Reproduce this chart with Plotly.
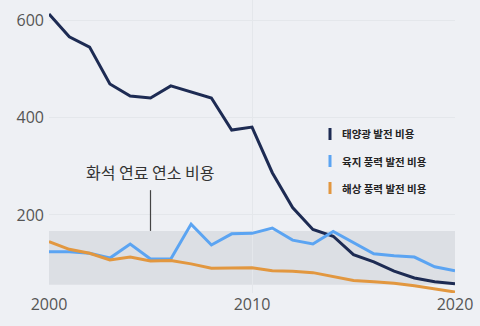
import plotly.graph_objects as go

years = list(range(2000, 2021))
solar = [614, 567, 546, 470, 445, 441, 466, 454, 441, 375, 381, 287, 215, 170, 156, 118, 103, 84, 70, 62, 58]
onshore = [124, 124, 121, 111, 140, 109, 109, 181, 138, 161, 162, 173, 148, 140, 166, 143, 120, 116, 113, 93, 85]
offshore = [145, 129, 121, 107, 113, 105, 106, 99, 90, 90, 91, 85, 84, 81, 73, 65, 62, 59, 54, 47, 41]
series_names = ["태양광 발전 비용", "육지 풍력 발전 비용", "해상 풍력 발전 비용"]
colors = ["#1d2b53", "#5ba4f2", "#e2973f"]
band_low, band_high = 56, 167
band_label = "화석 연료 연소 비용"
band_label_year = 2005

BG = "#eef0f4"
fig = go.Figure()
for vals, name, c in zip([solar, onshore, offshore], series_names, colors):
    fig.add_trace(go.Scatter(x=years, y=vals, mode="lines", name=name,
                             line=dict(color=c, width=3), cliponaxis=False,
                             showlegend=False))

fig.add_shape(type="rect", xref="x", yref="y", x0=years[0], x1=years[-1],
              y0=band_low, y1=band_high, fillcolor="#dcdfe4", line_width=0, layer="below")
fig.add_shape(type="line", xref="x", yref="y", x0=band_label_year, x1=band_label_year,
              y0=band_high, y1=251, line=dict(color="#444", width=1.2))
fig.add_annotation(x=band_label_year, y=289, xref="x", yref="y", text=band_label,
                   showarrow=False, font=dict(family="Noto Sans CJK KR", size=16, color="#333"))

# custom legend
leg_y = [134, 161, 188]
for name, c, py in zip(series_names, colors, leg_y):
    yp = 1 - py / 293
    fig.add_shape(type="line", xref="paper", yref="paper",
                  x0=(330 - 49) / 406, x1=(330 - 49) / 406,
                  y0=yp - 6 / 293, y1=yp + 6 / 293, line=dict(color=c, width=3))
    fig.add_annotation(xref="paper", yref="paper", x=(340 - 49) / 406, y=yp,
                       xanchor="left", yanchor="middle", text="<b>" + name + "</b>",
                       showarrow=False, font=dict(family="Noto Sans CJK KR", size=10.5, color="#222"))

fig.update_layout(
    width=480, height=326, margin=dict(l=49, r=25, t=0, b=33),
    paper_bgcolor=BG, plot_bgcolor=BG,
    font=dict(family="Open Sans", color="#555"),
    xaxis=dict(range=[2000, 2020], tickvals=[2000, 2010, 2020], showgrid=True,
               gridcolor="#e4e7eb", zeroline=False, showline=False,
               tickfont=dict(size=16, color="#555"), ticks=""),
    yaxis=dict(range=[39, 643], tickvals=[200, 400, 600], showgrid=True,
               gridcolor="#e4e7eb", zeroline=False, showline=False,
               tickfont=dict(size=16, color="#555"), ticks="", ticklabelstandoff=4),
)
fig.write_html("out.html")
